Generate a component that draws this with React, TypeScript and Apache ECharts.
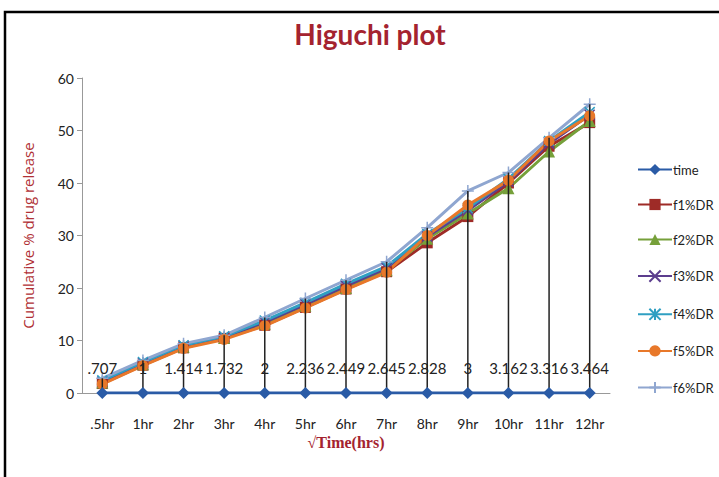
import React, { useEffect, useRef } from "react";
import * as echarts from "echarts";

const categories = [".5hr", "1hr", "2hr", "3hr", "4hr", "5hr", "6hr", "7hr", "8hr", "9hr", "10hr", "11hr", "12hr"];
const timeLabels = [".707", "1", "1.414", "1.732", "2", "2.236", "2.449", "2.645", "2.828", "3", "3.162", "3.316", "3.464"];
const time = [0, 0, 0, 0, 0, 0, 0, 0, 0, 0, 0, 0, 0];
const f1 = [1.8, 5.3, 8.6, 10.4, 12.9, 16.3, 19.8, 23.1, 28.6, 33.6, 40.0, 47.0, 51.5];
const f2 = [2.0, 5.5, 8.8, 10.5, 13.2, 16.6, 20.0, 23.4, 29.4, 34.2, 39.0, 46.0, 51.8];
const f3 = [2.2, 5.7, 9.0, 10.7, 13.5, 16.9, 20.4, 23.8, 29.8, 34.8, 40.3, 47.5, 53.0];
const f4 = [2.4, 5.9, 9.1, 10.8, 13.8, 17.2, 20.8, 24.1, 30.3, 35.2, 40.8, 48.0, 53.5];
const f5 = [1.7, 5.2, 8.5, 10.2, 12.8, 16.2, 19.7, 23.0, 30.0, 35.8, 40.5, 48.0, 52.8];
const f6 = [2.8, 6.2, 9.4, 11.0, 14.4, 18.0, 21.5, 25.0, 31.5, 38.5, 42.0, 48.6, 55.0];
const yTicks = [0, 10, 20, 30, 40, 50, 60];

const seriesNames = ["time", "f1%DR", "f2%DR", "f3%DR", "f4%DR", "f5%DR", "f6%DR"];
const seriesColors = ["#2a5ba6", "#9e2b27", "#76a03a", "#5c3d8e", "#2f9fc2", "#e8782a", "#8fa6d0"];

const X_PATH = "path://M0,0L10,10M10,0L0,10";
const STAR_PATH = "path://M0,0L10,10M10,0L0,10M5,0L5,10";
const PLUS_PATH = "path://M5,0L5,10M0,5L10,5";

export default function App() {
  const ref = useRef<HTMLDivElement>(null);
  useEffect(() => {
    if (!ref.current) return;
    const chart = echarts.init(ref.current, null, { renderer: "svg" });
    const all = [f1, f2, f3, f4, f5, f6];
    const drop = categories.map((_, i) => Math.max(...all.map((s) => s[i])));
    const font = "Lato, 'Open Sans', sans-serif";
    const mk = (name: string, data: number[], color: string, symbol: string, size: number, stroke: boolean) => ({
      name,
      type: "line",
      data,
      symbol,
      symbolSize: size,
      lineStyle: { color, width: 3 },
      itemStyle: stroke
        ? { color: "none", borderColor: color, borderWidth: 1.5 }
        : { color, borderColor: color, borderWidth: 0 },
      z: 2,
    });
    chart.setOption({
      animation: false,
      backgroundColor: "#ffffff",
      textStyle: { fontFamily: font },
      title: {
        text: "Higuchi plot",
        left: 365,
        top: 15,
        textAlign: "center",
        textStyle: { color: "#a4232f", fontSize: 28, fontWeight: "bold", fontFamily: font },
      },
      graphic: [
        {
          type: "rect",
          shape: { x: 5, y: 12, width: 760, height: 520 },
          style: { fill: "none", stroke: "#000", lineWidth: 2.5 },
          silent: true,
        },
      ],
      legend: {
        orient: "vertical",
        left: 632,
        top: 158,
        itemWidth: 34,
        itemHeight: 14,
        itemGap: 22,
        data: seriesNames,
        textStyle: { color: "#222", fontSize: 13, fontFamily: font, padding: [0, 0, 0, -4] },
      },
      grid: { left: 82, right: 109, top: 78, bottom: 84 },
      xAxis: {
        type: "category",
        data: categories,
        boundaryGap: true,
        name: "√Time(hrs)",
        nameLocation: "middle",
        nameGap: 37,
        nameTextStyle: { color: "#a4232f", fontSize: 16, fontWeight: "bold", fontFamily: "'Liberation Serif', 'DejaVu Serif', serif" },
        axisLine: { lineStyle: { color: "#999", width: 1 } },
        axisTick: { show: false },
        axisLabel: { color: "#222", fontSize: 14, margin: 23, fontFamily: font },
      },
      yAxis: {
        type: "value",
        min: yTicks[0],
        max: yTicks[yTicks.length - 1],
        interval: 10,
        name: "Cumulative % drug release",
        nameLocation: "middle",
        nameGap: 47,
        nameTextStyle: { color: "#b03035", fontSize: 15, fontFamily: "'Open Sans', Lato, sans-serif" },
        splitLine: { show: false },
        axisLine: { show: true, lineStyle: { color: "#999", width: 1 } },
        axisTick: { show: true, length: 5, lineStyle: { color: "#999" } },
        axisLabel: { color: "#222", fontSize: 14, margin: 8, fontFamily: font },
      },
      series: [
        {
          name: "drop",
          type: "bar",
          data: drop,
          barWidth: 1.5,
          itemStyle: { color: "#222" },
          z: 3,
          silent: true,
        },
        mk("f1%DR", f1, seriesColors[1], "rect", 11, false),
        mk("f2%DR", f2, seriesColors[2], "triangle", 12, false),
        mk("f3%DR", f3, seriesColors[3], X_PATH, 10, true),
        mk("f4%DR", f4, seriesColors[4], STAR_PATH, 10, true),
        mk("f6%DR", f6, seriesColors[6], PLUS_PATH, 12, true),
        mk("f5%DR", f5, seriesColors[5], "circle", 11, false),
        {
          name: "time",
          type: "line",
          data: time,
          symbol: "diamond",
          symbolSize: 12,
          lineStyle: { color: seriesColors[0], width: 3 },
          itemStyle: { color: seriesColors[0] },
          z: 4,
          label: {
            show: true,
            position: "top",
            distance: 12,
            formatter: (p: any) => timeLabels[p.dataIndex],
            color: "#222",
            fontSize: 15,
            fontFamily: font,
          },
        },
      ],
    });
    return () => chart.dispose();
  }, []);
  return <div ref={ref} style={{ width: 719, height: 477, position: "absolute", left: 0, top: 0 }} />;
}
